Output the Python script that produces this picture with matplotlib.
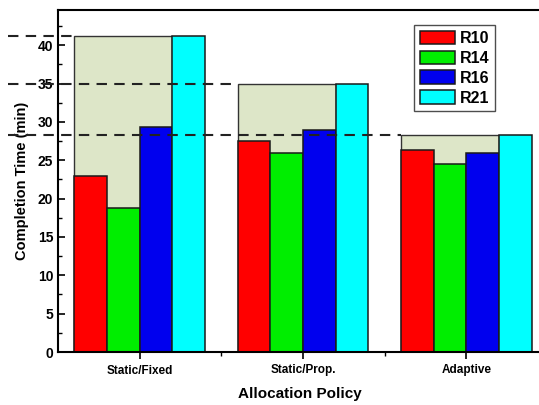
import matplotlib
matplotlib.use("Agg")
import matplotlib.pyplot as plt
from matplotlib.patches import Rectangle
from matplotlib.ticker import MultipleLocator, FixedLocator
import numpy as np

plt.rcParams['font.family'] = ['Liberation Sans', 'DejaVu Sans']
plt.rcParams['font.weight'] = 'bold'

policies = ["Static/Fixed", "Static/Prop.", "Adaptive"]
series = ["R10", "R14", "R16", "R21"]
r10 = [22.9, 27.5, 26.3]
r14 = [18.8, 25.9, 24.5]
r16 = [29.3, 28.9, 25.9]
r21 = [41.2, 34.9, 28.3]
colors = ["#ff0000", "#00ee00", "#0000ee", "#00ffff"]
shade_color = "#dde6c8"

fig = plt.figure(figsize=(5.39, 4.05), dpi=100)
ax = fig.add_axes([58/539, 1-352/405, 490/539, 342/405])

x = np.arange(len(policies))
w = 0.2
vals = [r10, r14, r16, r21]
offsets = [-0.3, -0.1, 0.1, 0.3]

# shaded region + dashed reference lines
for i in range(len(policies)):
    top = max(v[i] for v in vals)
    ax.add_patch(Rectangle((x[i]-0.4, 0), 0.6, top, facecolor=shade_color,
                           edgecolor="#333333", linewidth=1.0, zorder=1))
    ax.plot([-0.805, x[i]-0.4], [top, top], color="#222222", lw=1.5,
            dashes=(5, 3.5), clip_on=False, zorder=3)

for s, v, c, o in zip(series, vals, colors, offsets):
    ax.bar(x + o, v, width=w, color=c, edgecolor="#1a1a1a", linewidth=1.1,
           label=s, zorder=2)

ax.set_xlim(-0.5, 2.5)
ax.set_ylim(0, 44.6)
ax.set_xticks(x)
ax.set_xticklabels(policies, fontsize=8.5, fontweight='bold')
ax.xaxis.set_minor_locator(FixedLocator([0.5, 1.5]))
ax.yaxis.set_major_locator(MultipleLocator(5))
ax.yaxis.set_minor_locator(MultipleLocator(2.5))
ax.tick_params(axis='y', which='major', direction='in', length=5, width=1.2, labelsize=10)
ax.tick_params(axis='y', which='minor', direction='in', length=3, width=1.0)
ax.tick_params(axis='x', which='major', direction='out', length=5, width=1.2, pad=4)
ax.tick_params(axis='x', which='minor', direction='out', length=3, width=1.0)
for lab in ax.get_yticklabels():
    lab.set_fontweight('bold')
for sp in ax.spines.values():
    sp.set_linewidth(1.5)

ax.set_ylabel("Completion Time (min)", fontsize=10.5, fontweight='bold', labelpad=6)
ax.set_xlabel("Allocation Policy", fontsize=11, fontweight='bold')
ax.xaxis.set_label_coords((300-58)/490, -0.103)

leg = ax.legend(loc='upper left', bbox_to_anchor=(0.727, 0.956), fontsize=11.5,
                frameon=True, fancybox=False, edgecolor='#222222',
                handlelength=2.2, handleheight=0.9, handletextpad=0.3,
                labelspacing=0.3, borderpad=0.35, borderaxespad=0)
leg.get_frame().set_linewidth(1.0)
for t in leg.get_texts():
    t.set_fontweight('bold')

fig.savefig("out.png", dpi=100)
